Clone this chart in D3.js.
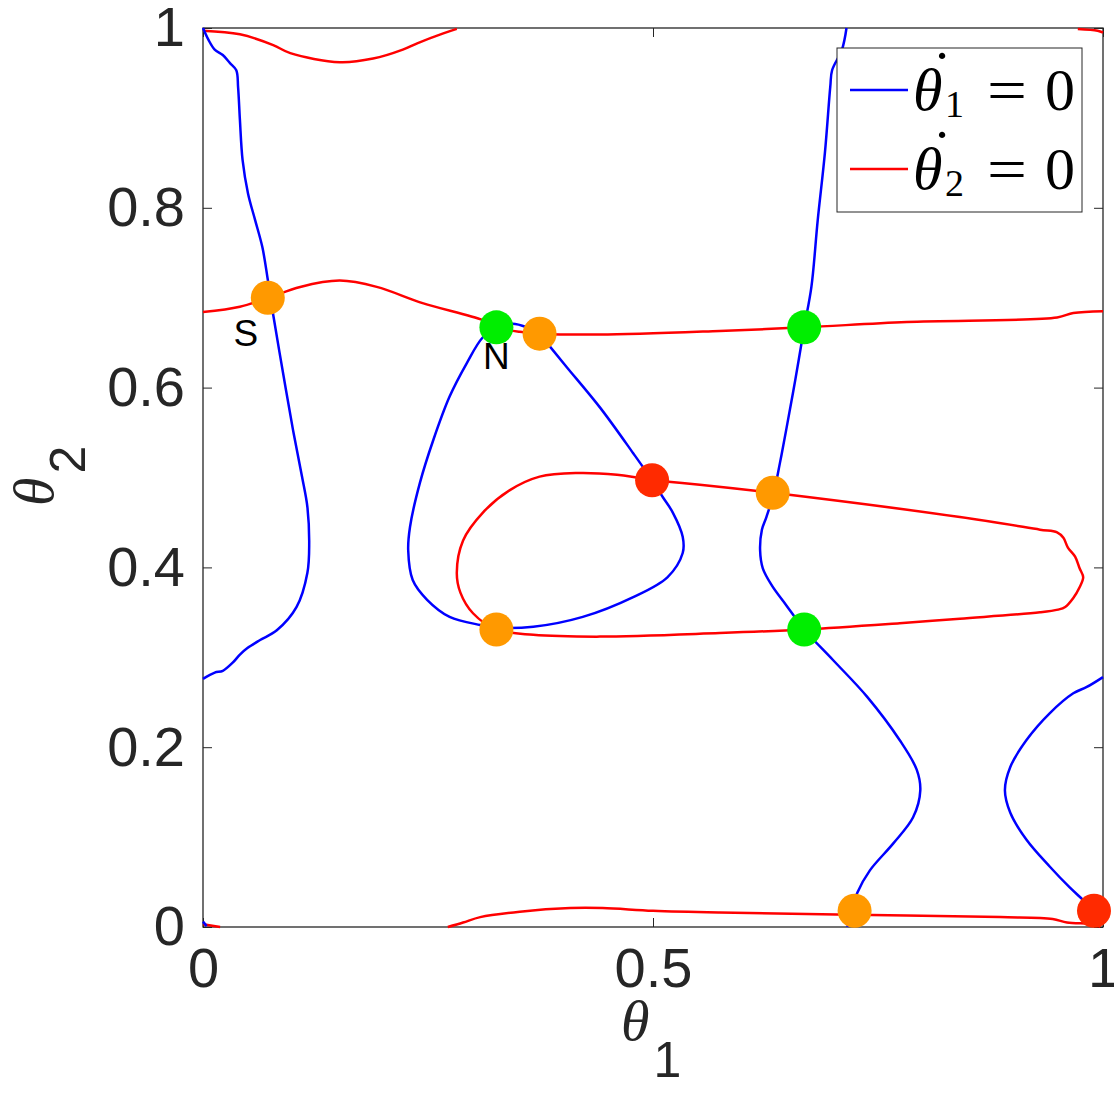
<!DOCTYPE html>
<html>
<head>
<meta charset="utf-8">
<script src="https://cdn.jsdelivr.net/npm/d3@7"></script>
<style>
  body { margin: 0; background: #fff; }
  svg { display: block; }
</style>
</head>
<body>
<div class="container"></div>
<script>
// nullcline of theta1 (blue), each piece, [theta1, theta2]
var blueLeft = [[0.000,1.000],[0.006,0.987],[0.013,0.976],[0.022,0.970],[0.030,0.961],[0.037,0.953],
  [0.039,0.934],[0.041,0.898],[0.044,0.853],[0.050,0.816],[0.058,0.786],[0.066,0.756],[0.072,0.720],
  [0.078,0.681],[0.089,0.616],[0.100,0.553],[0.110,0.501],[0.116,0.467],[0.118,0.427],[0.116,0.394],
  [0.104,0.356],[0.082,0.330],[0.063,0.319],[0.049,0.310],[0.041,0.303],[0.033,0.294],[0.022,0.285],
  [0.013,0.283],[0.000,0.276]];
var blueLoop = [[0.327,0.667],[0.311,0.656],[0.293,0.627],[0.274,0.590],[0.256,0.542],[0.241,0.494],
  [0.230,0.445],[0.228,0.419],[0.233,0.386],[0.249,0.364],[0.274,0.345],[0.308,0.336],[0.327,0.333],
  [0.367,0.334],[0.422,0.345],[0.478,0.367],[0.516,0.389],[0.533,0.416],[0.533,0.434],[0.522,0.461],
  [0.511,0.478],[0.499,0.497],[0.478,0.527],[0.441,0.578],[0.404,0.623],[0.386,0.645],[0.374,0.660],
  [0.360,0.667],[0.344,0.671],[0.327,0.667]];
var blueMid = [[0.715,1.000],[0.710,0.976],[0.699,0.953],[0.697,0.935],[0.691,0.861],[0.683,0.786],
  [0.676,0.712],[0.668,0.667],[0.658,0.608],[0.648,0.553],[0.641,0.516],[0.634,0.482],[0.626,0.456],
  [0.621,0.442],[0.619,0.419],[0.622,0.399],[0.632,0.380],[0.648,0.358],[0.668,0.331],[0.700,0.297],
  [0.738,0.256],[0.774,0.208],[0.793,0.175],[0.797,0.152],[0.789,0.122],[0.767,0.093],[0.741,0.063],
  [0.727,0.038],[0.716,0.000]];
var blueRight = [[1.000,0.278],[0.982,0.267],[0.967,0.260],[0.941,0.238],[0.915,0.208],[0.897,0.178],
  [0.891,0.152],[0.897,0.127],[0.915,0.097],[0.941,0.067],[0.963,0.044],[0.978,0.030],[0.990,0.018],
  [1.000,0.008]];
var blueCorner = [[0.000,0.006],[0.004,0.001]];

// nullcline of theta2 (red)
var redTop = [[0.000,0.997],[0.041,0.993],[0.078,0.981],[0.097,0.972],[0.152,0.962],[0.189,0.966],
  [0.222,0.976],[0.238,0.983],[0.267,0.994],[0.282,0.999]];
var redUpper = [[0.000,0.684],[0.041,0.690],[0.073,0.700],[0.108,0.712],[0.152,0.719],[0.193,0.712],
  [0.244,0.694],[0.311,0.675],[0.327,0.667],[0.352,0.662],[0.374,0.660],[0.441,0.659],[0.574,0.663],
  [0.668,0.667],[0.782,0.673],[0.949,0.678],[0.967,0.683],[1.000,0.685]];
var redLoop = [[0.499,0.497],[0.552,0.492],[0.633,0.483],[0.841,0.456],[0.930,0.442],[0.949,0.439],
  [0.956,0.433],[0.961,0.422],[0.969,0.412],[0.974,0.399],[0.978,0.389],[0.974,0.378],[0.967,0.366],
  [0.958,0.356],[0.950,0.353],[0.930,0.350],[0.841,0.343],[0.774,0.338],[0.668,0.331],[0.574,0.327],
  [0.441,0.323],[0.367,0.325],[0.326,0.331],[0.300,0.349],[0.286,0.372],[0.282,0.394],[0.289,0.430],
  [0.311,0.461],[0.341,0.486],[0.374,0.501],[0.416,0.505],[0.460,0.503],[0.499,0.497]];
var redBottom = [[0.272,0.000],[0.289,0.005],[0.308,0.011],[0.352,0.017],[0.408,0.021],[0.444,0.021],
  [0.500,0.018],[0.574,0.016],[0.704,0.014],[0.886,0.011],[0.944,0.009],[0.960,0.005],[0.990,0.003],
  [0.997,0.000]];
var redCornerLow = [[0.000,0.003],[0.019,0.000]];
var redCornerHigh = [[0.972,0.999],[0.994,0.997],[1.000,0.995]];

// fixed points
var orangePoints = [[0.072,0.700],[0.374,0.660],[0.326,0.331],[0.633,0.483],[0.724,0.018]];
var greenPoints = [[0.326,0.667],[0.668,0.667],[0.668,0.331]];
var redPoints = [[0.499,0.497],[0.990,0.018]];

var pointLabels = [{text: "S", at: [0.072,0.700], dx: -22, dy: 48}, {text: "N", at: [0.326,0.667], dx: 0, dy: 42}];

var xTicks = [0, 0.5, 1];
var xTickLabels = ["0", "0.5", "1"];
var yTicks = [0, 0.2, 0.4, 0.6, 0.8, 1];
var yTickLabels = ["0", "0.2", "0.4", "0.6", "0.8", "1"];

(function () {
  var W = 1114, H = 1096;
  var mLeft = 203, mTop = 28, mRight = 1103, mBottom = 927;
  var axisColor = "#262626";

  var svg = d3.select(".container").append("svg")
    .attr("width", W)
    .attr("height", H);

  var x = d3.scaleLinear().domain([0, 1]).range([mLeft, mRight]);
  var y = d3.scaleLinear().domain([0, 1]).range([mBottom, mTop]);

  // axes, ticks pointing inward on all four sides
  function styleAxis(g) {
    g.selectAll("path").remove();
    g.selectAll("line").attr("stroke", axisColor).attr("stroke-width", 1);
    g.selectAll("text")
      .attr("fill", axisColor)
      .style("font-family", "'Liberation Sans', Arial, Helvetica, sans-serif")
      .style("font-size", "56px");
  }

  svg.append("g")
    .attr("transform", "translate(0," + mBottom + ")")
    .call(d3.axisBottom(x).tickValues(xTicks).tickSize(-9).tickPadding(20)
      .tickFormat(function (d, i) { return xTickLabels[i]; }))
    .call(styleAxis);

  svg.append("g")
    .attr("transform", "translate(0," + mTop + ")")
    .call(d3.axisTop(x).tickValues(xTicks).tickSize(-9).tickFormat(""))
    .call(styleAxis);

  svg.append("g")
    .attr("transform", "translate(" + mLeft + ",0)")
    .call(d3.axisLeft(y).tickValues(yTicks).tickSize(-9).tickPadding(18)
      .tickFormat(function (d, i) { return yTickLabels[i]; }))
    .call(styleAxis);

  svg.append("g")
    .attr("transform", "translate(" + mRight + ",0)")
    .call(d3.axisRight(y).tickValues(yTicks).tickSize(-9).tickFormat(""))
    .call(styleAxis);

  // box
  svg.append("rect")
    .attr("x", mLeft).attr("y", mTop)
    .attr("width", mRight - mLeft).attr("height", mBottom - mTop)
    .attr("fill", "none")
    .attr("stroke", axisColor)
    .attr("stroke-width", 1.3);

  // curves
  var line = d3.line()
    .x(function (d) { return x(d[0]); })
    .y(function (d) { return y(d[1]); })
    .curve(d3.curveCatmullRom.alpha(0.5));

  var blueCurves = [blueLeft, blueLoop, blueMid, blueRight, blueCorner];
  var redCurves = [redTop, redUpper, redLoop, redBottom, redCornerLow, redCornerHigh];

  svg.append("g").selectAll("path")
    .data(redCurves)
    .enter().append("path")
      .attr("d", line)
      .attr("fill", "none")
      .attr("stroke", "#ff0000")
      .attr("stroke-width", 2.5)
      .attr("stroke-linejoin", "round");

  svg.append("g").selectAll("path")
    .data(blueCurves)
    .enter().append("path")
      .attr("d", line)
      .attr("fill", "none")
      .attr("stroke", "#0000ff")
      .attr("stroke-width", 2.5)
      .attr("stroke-linejoin", "round");

  // fixed points
  function drawPoints(data, color) {
    svg.append("g").selectAll("circle")
      .data(data)
      .enter().append("circle")
        .attr("cx", function (d) { return x(d[0]); })
        .attr("cy", function (d) { return y(d[1]); })
        .attr("r", 17)
        .style("fill", color);
  }
  drawPoints(orangePoints, "#ff9900");
  drawPoints(greenPoints, "#00ee00");
  drawPoints(redPoints, "#ff2a00");

  svg.append("g").selectAll("text")
    .data(pointLabels)
    .enter().append("text")
      .attr("x", function (d) { return x(d.at[0]) + d.dx; })
      .attr("y", function (d) { return y(d.at[1]) + d.dy; })
      .attr("text-anchor", "middle")
      .style("font-family", "'Liberation Sans', Arial, sans-serif")
      .style("font-size", "37px")
      .text(function (d) { return d.text; });

  // axis labels
  var xl = svg.append("text")
    .attr("x", 621).attr("y", 1040)
    .attr("fill", axisColor);
  xl.append("tspan")
    .style("font-family", "'Liberation Serif', 'Times New Roman', serif")
    .style("font-style", "italic")
    .style("font-size", "58px")
    .text("θ");
  xl.append("tspan")
    .attr("dx", 4).attr("dy", 37)
    .style("font-family", "'Liberation Sans', Arial, sans-serif")
    .style("font-size", "50px")
    .text("1");

  var yl = svg.append("text")
    .attr("transform", "translate(53,506) rotate(-90)")
    .attr("fill", axisColor);
  yl.append("tspan")
    .style("font-family", "'Liberation Serif', 'Times New Roman', serif")
    .style("font-style", "italic")
    .style("font-size", "58px")
    .text("θ");
  yl.append("tspan")
    .attr("dx", 4).attr("dy", 32)
    .style("font-family", "'Liberation Sans', Arial, sans-serif")
    .style("font-size", "50px")
    .text("2");

  // legend
  var legendRows = [
    {color: "#0000ff", sub: "1"},
    {color: "#ff0000", sub: "2"}
  ];

  var legend = svg.append("g");
  legend.append("rect")
    .attr("x", 837).attr("y", 48)
    .attr("width", 245).attr("height", 164)
    .attr("fill", "#fff")
    .attr("stroke", axisColor)
    .attr("stroke-width", 1);

  var rows = legend.selectAll("g.row")
    .data(legendRows)
    .enter().append("g")
      .attr("class", "row")
      .attr("transform", function (d, i) { return "translate(0," + (i * 79) + ")"; });

  rows.append("line")
    .attr("x1", 850).attr("x2", 908)
    .attr("y1", 90).attr("y2", 90)
    .attr("stroke", function (d) { return d.color; })
    .attr("stroke-width", 2.5);

  var lt = rows.append("text")
    .attr("y", 110)
    .attr("fill", "#000")
    .style("font-family", "'Liberation Serif', 'Times New Roman', serif")
    .style("font-size", "60px");
  lt.append("tspan").attr("x", 913).style("font-style", "italic").text("θ");
  lt.append("tspan").attr("x", 932).attr("y", 92).text("˙");
  lt.append("tspan").attr("x", 945).attr("y", 117).style("font-size", "38px")
    .text(function (d) { return d.sub; });
  lt.append("tspan").attr("x", 987).attr("y", 110)
    .attr("textLength", 40).attr("lengthAdjust", "spacingAndGlyphs").text("=");
  lt.append("tspan").attr("x", 1045).text("0");
})();
</script>
</body>
</html>
